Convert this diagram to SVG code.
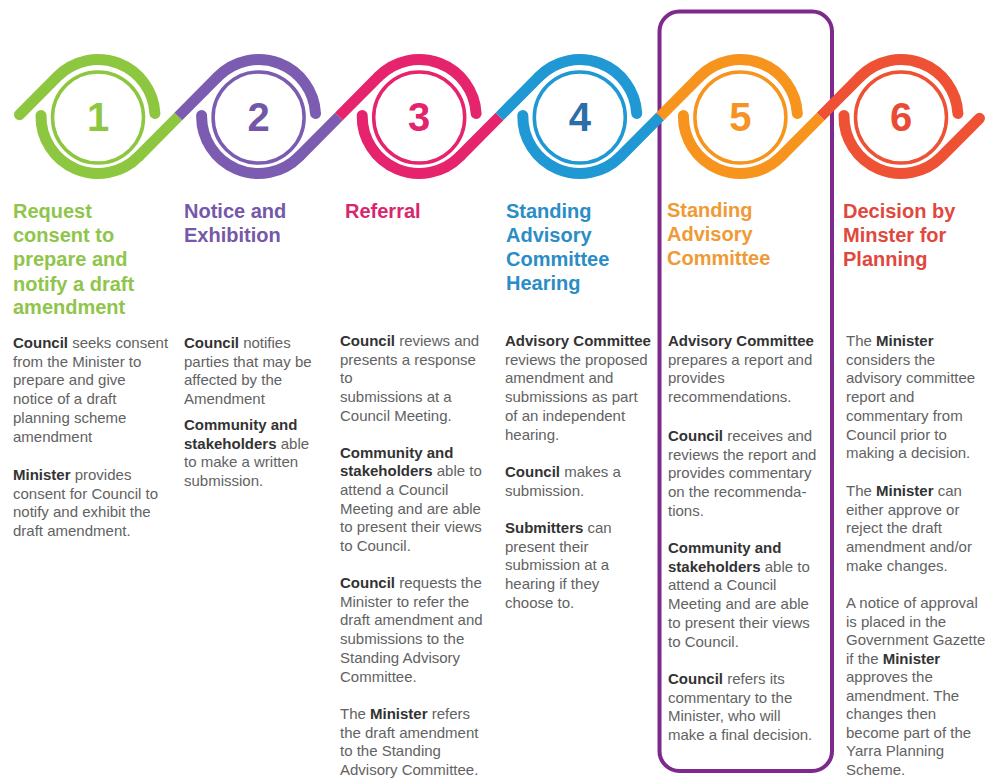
<svg xmlns="http://www.w3.org/2000/svg" width="988" height="778" viewBox="0 0 988 778">
  <style>
    .band { fill: none; stroke-width: 11; stroke-linecap: round; }
    .link { fill: none; stroke-width: 11; stroke-linecap: butt; }
    .ring { fill: none; stroke-width: 3.5; }
    .num { font-family: "Liberation Sans", Arial, sans-serif; font-weight: 700; font-size: 40px; text-anchor: middle; }
    .head { font-family: "Liberation Sans", Arial, sans-serif; font-weight: 700; font-size: 20px; }
    .body { font-family: "Liberation Sans", Arial, sans-serif; font-size: 15px; fill: #626262; }
    .body .b { font-weight: 700; fill: #333333; }
    .c1 { stroke: #8dc63f; } .f1 { fill: #8dc63f; } .h1 { fill: #8fc54b; }
    .c2 { stroke: #7b5cb0; } .f2 { fill: #7256a8; } .h2 { fill: #7558a8; }
    .c3 { stroke: #e6246e; } .f3 { fill: #e2236d; } .h3 { fill: #d9266c; }
    .c4 { stroke: #1f98d4; } .f4 { fill: #2c6ea8; } .h4 { fill: #2b8dc6; }
    .c5 { stroke: #f7941d; } .f5 { fill: #f59325; } .h5 { fill: #f09a35; }
    .c6 { stroke: #ee5134; } .f6 { fill: #e84c35; } .h6 { fill: #e0483e; }
  </style>

  <rect width="988" height="778" fill="#ffffff"/>

  <!-- highlight frame around step 5 -->
  <rect id="highlight" x="659.5" y="11.5" width="172.5" height="759.5" rx="20" fill="none" stroke="#7e2a8c" stroke-width="4"/>

  <!-- diagonal ribbon segments linking each step to the next -->
  <g id="connectors">
    <path class="link c1" d="M138.46 156.65 L178.3 116.5"/>
    <path class="link c2" d="M178.3 116.5 L218.14 76.35"/>
    <path class="link c2" d="M299.06 156.65 L338.9 116.5"/>
    <path class="link c3" d="M338.9 116.5 L378.74 76.35"/>
    <path class="link c3" d="M459.66 156.65 L499.5 116.5"/>
    <path class="link c4" d="M499.5 116.5 L539.34 76.35"/>
    <path class="link c4" d="M620.26 156.65 L660.1 116.5"/>
    <path class="link c5" d="M660.1 116.5 L699.94 76.35"/>
    <path class="link c5" d="M780.86 156.65 L820.7 116.5"/>
    <path class="link c6" d="M820.7 116.5 L860.54 76.35"/>
  </g>

  <g id="step1">
    <path class="band c1" d="M19.5 114.68 L57.54 76.35 A57 57 0 0 1 154.92 113.52"/>
    <path class="band c1" d="M41.01 115.51 A57 57 0 0 0 138.46 156.65"/>
    <circle class="ring c1" cx="98" cy="117.5" r="45.5"/>
    <text class="num f1" x="98" y="131">1</text>
    <text class="head h1" x="13" y="218">Request</text>
    <text class="head h1" x="13" y="242">consent to</text>
    <text class="head h1" x="13" y="266">prepare and</text>
    <text class="head h1" x="13" y="291">notify a draft</text>
    <text class="head h1" x="13" y="314">amendment</text>
    <text class="body" x="13" y="348"><tspan class="b">Council</tspan> seeks consent</text>
    <text class="body" x="13" y="366.7">from the Minister to</text>
    <text class="body" x="13" y="385.4">prepare and give</text>
    <text class="body" x="13" y="404.1">notice of a draft</text>
    <text class="body" x="13" y="422.8">planning scheme</text>
    <text class="body" x="13" y="441.5">amendment</text>
    <text class="body" x="13" y="480"><tspan class="b">Minister</tspan> provides</text>
    <text class="body" x="13" y="498.7">consent for Council to</text>
    <text class="body" x="13" y="517.4">notify and exhibit the</text>
    <text class="body" x="13" y="536.1">draft amendment.</text>
  </g>

  <g id="step2">
    <path class="band c2" d="M218.14 76.35 A57 57 0 0 1 315.52 113.52"/>
    <path class="band c2" d="M201.61 115.51 A57 57 0 0 0 299.06 156.65"/>
    <circle class="ring c2" cx="258.6" cy="117.5" r="45.5"/>
    <text class="num f2" x="258.6" y="131">2</text>
    <text class="head h2" x="184" y="218">Notice and</text>
    <text class="head h2" x="184" y="242">Exhibition</text>
    <text class="body" x="184" y="348"><tspan class="b">Council</tspan> notifies</text>
    <text class="body" x="184" y="366.7">parties that may be</text>
    <text class="body" x="184" y="385.4">affected by the</text>
    <text class="body" x="184" y="404.1">Amendment</text>
    <text class="body" x="184" y="430"><tspan class="b">Community and</tspan></text>
    <text class="body" x="184" y="448.7"><tspan class="b">stakeholders</tspan> able</text>
    <text class="body" x="184" y="467.4">to make a written</text>
    <text class="body" x="184" y="486.1">submission.</text>
  </g>

  <g id="step3">
    <path class="band c3" d="M378.74 76.35 A57 57 0 0 1 476.12 113.52"/>
    <path class="band c3" d="M362.21 115.51 A57 57 0 0 0 459.66 156.65"/>
    <circle class="ring c3" cx="419.2" cy="117.5" r="45.5"/>
    <text class="num f3" x="419.2" y="131">3</text>
    <text class="head h3" x="345" y="218">Referral</text>
    <text class="body" x="340" y="346"><tspan class="b">Council</tspan> reviews and</text>
    <text class="body" x="340" y="364.7">presents a response</text>
    <text class="body" x="340" y="383.4">to</text>
    <text class="body" x="340" y="402.1">submissions at a</text>
    <text class="body" x="340" y="420.8">Council Meeting.</text>
    <text class="body" x="340" y="457.5"><tspan class="b">Community and</tspan></text>
    <text class="body" x="340" y="476.2"><tspan class="b">stakeholders</tspan> able to</text>
    <text class="body" x="340" y="494.9">attend a Council</text>
    <text class="body" x="340" y="513.6">Meeting and are able</text>
    <text class="body" x="340" y="532.3">to present their views</text>
    <text class="body" x="340" y="551">to Council.</text>
    <text class="body" x="340" y="588"><tspan class="b">Council</tspan> requests the</text>
    <text class="body" x="340" y="606.7">Minister to refer the</text>
    <text class="body" x="340" y="625.4">draft amendment and</text>
    <text class="body" x="340" y="644.1">submissions to the</text>
    <text class="body" x="340" y="662.8">Standing Advisory</text>
    <text class="body" x="340" y="681.5">Committee.</text>
    <text class="body" x="340" y="719">The <tspan class="b">Minister</tspan> refers</text>
    <text class="body" x="340" y="737.7">the draft amendment</text>
    <text class="body" x="340" y="756.4">to the Standing</text>
    <text class="body" x="340" y="774.6">Advisory Committee.</text>
  </g>

  <g id="step4">
    <path class="band c4" d="M539.34 76.35 A57 57 0 0 1 636.72 113.52"/>
    <path class="band c4" d="M522.81 115.51 A57 57 0 0 0 620.26 156.65"/>
    <circle class="ring c4" cx="579.8" cy="117.5" r="45.5"/>
    <text class="num f4" x="579.8" y="131">4</text>
    <text class="head h4" x="506" y="218">Standing</text>
    <text class="head h4" x="506" y="242">Advisory</text>
    <text class="head h4" x="506" y="266">Committee</text>
    <text class="head h4" x="506" y="290">Hearing</text>
    <text class="body" x="505" y="346"><tspan class="b">Advisory Committee</tspan></text>
    <text class="body" x="505" y="364.7">reviews the proposed</text>
    <text class="body" x="505" y="383.4">amendment and</text>
    <text class="body" x="505" y="402.1">submissions as part</text>
    <text class="body" x="505" y="420.8">of an independent</text>
    <text class="body" x="505" y="439.5">hearing.</text>
    <text class="body" x="505" y="477"><tspan class="b">Council</tspan> makes a</text>
    <text class="body" x="505" y="495.7">submission.</text>
    <text class="body" x="505" y="533"><tspan class="b">Submitters</tspan> can</text>
    <text class="body" x="505" y="551.7">present their</text>
    <text class="body" x="505" y="570.4">submission at a</text>
    <text class="body" x="505" y="589.1">hearing if they</text>
    <text class="body" x="505" y="607.8">choose to.</text>
  </g>

  <g id="step5">
    <path class="band c5" d="M699.94 76.35 A57 57 0 0 1 797.32 113.52"/>
    <path class="band c5" d="M683.41 115.51 A57 57 0 0 0 780.86 156.65"/>
    <circle class="ring c5" cx="740.4" cy="117.5" r="45.5"/>
    <text class="num f5" x="740.4" y="131">5</text>
    <text class="head h5" x="667" y="217">Standing</text>
    <text class="head h5" x="667" y="241">Advisory</text>
    <text class="head h5" x="667" y="265">Committee</text>
    <text class="body" x="668" y="346"><tspan class="b">Advisory Committee</tspan></text>
    <text class="body" x="668" y="364.7">prepares a report and</text>
    <text class="body" x="668" y="383.4">provides</text>
    <text class="body" x="668" y="402.1">recommendations.</text>
    <text class="body" x="668" y="441"><tspan class="b">Council</tspan> receives and</text>
    <text class="body" x="668" y="459.7">reviews the report and</text>
    <text class="body" x="668" y="478.4">provides commentary</text>
    <text class="body" x="668" y="497.1">on the recommenda-</text>
    <text class="body" x="668" y="515.8">tions.</text>
    <text class="body" x="668" y="553"><tspan class="b">Community and</tspan></text>
    <text class="body" x="668" y="571.7"><tspan class="b">stakeholders</tspan> able to</text>
    <text class="body" x="668" y="590.4">attend a Council</text>
    <text class="body" x="668" y="609.1">Meeting and are able</text>
    <text class="body" x="668" y="627.8">to present their views</text>
    <text class="body" x="668" y="646.5">to Council.</text>
    <text class="body" x="668" y="684"><tspan class="b">Council</tspan> refers its</text>
    <text class="body" x="668" y="702.7">commentary to the</text>
    <text class="body" x="668" y="721.4">Minister, who will</text>
    <text class="body" x="668" y="740.1">make a final decision.</text>
  </g>

  <g id="step6">
    <path class="band c6" d="M860.54 76.35 A57 57 0 0 1 957.92 113.52"/>
    <path class="band c6" d="M844.01 115.51 A57 57 0 0 0 941.46 156.65 L979.5 118.32"/>
    <circle class="ring c6" cx="901" cy="117.5" r="45.5"/>
    <text class="num f6" x="901" y="131">6</text>
    <text class="head h6" x="843" y="218">Decision by</text>
    <text class="head h6" x="843" y="242">Minster for</text>
    <text class="head h6" x="843" y="266">Planning</text>
    <text class="body" x="846" y="346">The <tspan class="b">Minister</tspan></text>
    <text class="body" x="846" y="364.7">considers the</text>
    <text class="body" x="846" y="383.4">advisory committee</text>
    <text class="body" x="846" y="402.1">report and</text>
    <text class="body" x="846" y="420.8">commentary from</text>
    <text class="body" x="846" y="439.5">Council prior to</text>
    <text class="body" x="846" y="458.2">making a decision.</text>
    <text class="body" x="846" y="496">The <tspan class="b">Minister</tspan> can</text>
    <text class="body" x="846" y="514.7">either approve or</text>
    <text class="body" x="846" y="533.4">reject the draft</text>
    <text class="body" x="846" y="552.1">amendment and/or</text>
    <text class="body" x="846" y="570.8">make changes.</text>
    <text class="body" x="846" y="608">A notice of approval</text>
    <text class="body" x="846" y="626.5">is placed in the</text>
    <text class="body" x="846" y="645">Government Gazette</text>
    <text class="body" x="846" y="663.5">if the <tspan class="b">Minister</tspan></text>
    <text class="body" x="846" y="682">approves the</text>
    <text class="body" x="846" y="700.5">amendment. The</text>
    <text class="body" x="846" y="719">changes then</text>
    <text class="body" x="846" y="737.5">become part of the</text>
    <text class="body" x="846" y="756">Yarra Planning</text>
    <text class="body" x="846" y="774.5">Scheme.</text>
  </g>
</svg>
